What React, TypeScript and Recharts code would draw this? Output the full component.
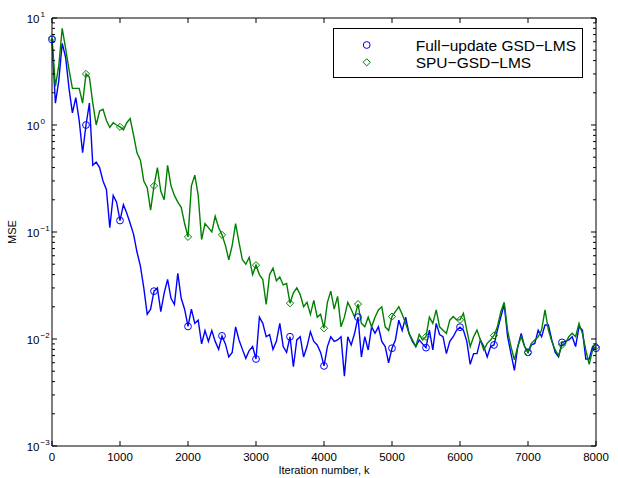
import { LineChart, Line, XAxis, YAxis } from 'recharts'

const STEP = 50

const fullUpdateMse = [
  6.3, 1.6, 2.6, 5.8, 4.3, 2.2, 1.3, 1.8, 1.1, 0.55,
  1.0, 1.6, 0.42, 0.45, 0.4, 0.3, 0.25, 0.11, 0.22, 0.19,
  0.128, 0.18, 0.15, 0.12, 0.095, 0.065, 0.048, 0.03, 0.017, 0.019,
  0.028, 0.03, 0.018, 0.027, 0.036, 0.024, 0.021, 0.041, 0.024, 0.019,
  0.0131, 0.019, 0.014, 0.015, 0.009, 0.012, 0.0095, 0.012, 0.0095, 0.008,
  0.0107, 0.009, 0.0068, 0.0075, 0.013, 0.0098, 0.008, 0.0066, 0.0078, 0.0085,
  0.0065, 0.016, 0.014, 0.0105, 0.011, 0.008, 0.0095, 0.014, 0.0085, 0.0075,
  0.0105, 0.0055, 0.0098, 0.0105, 0.0068, 0.0085, 0.0117, 0.0095, 0.0088, 0.0075,
  0.0056, 0.0085, 0.0105, 0.0095, 0.0098, 0.0105, 0.0045, 0.0105, 0.0088, 0.0113,
  0.016, 0.0068, 0.0105, 0.0079, 0.013, 0.0113, 0.013, 0.0095, 0.0085, 0.006,
  0.0082, 0.0098, 0.015, 0.012, 0.016, 0.0113, 0.0095, 0.0085, 0.0098, 0.009,
  0.0083, 0.0121, 0.0079, 0.014, 0.011, 0.0105, 0.0073, 0.0095, 0.0105, 0.0121,
  0.0129, 0.0121, 0.0095, 0.0058, 0.0073, 0.0073, 0.0098, 0.0085, 0.0068, 0.0085,
  0.0088, 0.0121, 0.016, 0.021, 0.0105, 0.0073, 0.0051, 0.0085, 0.0113, 0.0085,
  0.0075, 0.0088, 0.0091, 0.0121, 0.0105, 0.0135, 0.0135, 0.0098, 0.0075, 0.0068,
  0.0093, 0.0095, 0.0098, 0.0105, 0.0085, 0.013, 0.0121, 0.0065, 0.0065, 0.0085,
  0.0082,
]

const spuMse = [
  6.5, 2.3, 3.6, 8.0, 5.2, 3.3, 2.2, 2.2, 2.2, 1.6,
  3.0, 2.8, 1.6, 1.0, 1.35, 1.4, 1.1, 0.95, 1.05, 1.0,
  0.96, 0.9, 1.05, 1.15, 0.8, 0.55, 0.47, 0.3, 0.26, 0.16,
  0.27, 0.4, 0.24, 0.2, 0.42, 0.27, 0.22, 0.19, 0.17, 0.12,
  0.09, 0.27, 0.34, 0.22, 0.085, 0.12, 0.11, 0.1, 0.14, 0.11,
  0.094, 0.075, 0.055, 0.075, 0.12, 0.08, 0.055, 0.05, 0.058, 0.04,
  0.049, 0.04, 0.036, 0.021, 0.04, 0.046, 0.035, 0.038, 0.032, 0.033,
  0.0216, 0.027, 0.03, 0.026, 0.02, 0.022, 0.017, 0.023, 0.016, 0.017,
  0.0126, 0.022, 0.028, 0.019, 0.025, 0.013, 0.016, 0.022, 0.019, 0.016,
  0.0212, 0.014, 0.013, 0.016, 0.013, 0.016, 0.0187, 0.02, 0.013, 0.012,
  0.0162, 0.018, 0.02, 0.017, 0.014, 0.0113, 0.0098, 0.0085, 0.011, 0.0098,
  0.0105, 0.016, 0.014, 0.0187, 0.013, 0.0121, 0.0113, 0.015, 0.0162, 0.0151,
  0.0151, 0.0174, 0.0121, 0.0085, 0.0105, 0.0121, 0.0098, 0.0079, 0.0091, 0.0098,
  0.0108, 0.013, 0.018, 0.022, 0.012, 0.0085, 0.0064, 0.0085, 0.0105, 0.0085,
  0.0075, 0.0091, 0.0098, 0.0105, 0.0121, 0.0187, 0.0121, 0.0095, 0.0079, 0.007,
  0.0088, 0.0091, 0.0105, 0.0113, 0.0105, 0.014, 0.0113, 0.0079, 0.0058, 0.0079,
  0.0085,
]

const xTicks = [0, 1000, 2000, 3000, 4000, 5000, 6000, 7000, 8000]
const decades = [0.001, 0.01, 0.1, 1]
const mantissas = [1, 2, 3, 4, 5, 6, 7, 8, 9]
const yTicks = decades
  .flatMap((d) => mantissas.map((m) => +(m * d).toPrecision(3)))
  .concat([10])

const MARK_EVERY = 500
const FONT = '"Liberation Sans", Arial, Helvetica, sans-serif'
const BLUE = '#0000ff'
const GREEN = '#008000'

const data = fullUpdateMse.map((v, i) => ({ k: i * STEP, full: v, spu: spuMse[i] }))

const isMajor = (v: number) => Math.abs(Math.log10(v) - Math.round(Math.log10(v))) < 1e-6
const expOf = (v: number) => {
  const e = Math.round(Math.log10(v))
  return e < 0 ? '\u2212' + Math.abs(e) : String(e)
}

function BottomTick({ x, y, payload }: any) {
  return (
    <g>
      <line x1={x} y1={y} x2={x} y2={y - 5} stroke="#000" />
      <text x={x} y={y + 15} textAnchor="middle" fontSize={11.5} fontFamily={FONT} fill="#000">
        {payload.value}
      </text>
    </g>
  )
}

function TopTick({ x, y }: any) {
  return <line x1={x} y1={y} x2={x} y2={y + 5} stroke="#000" />
}

function LeftTick({ x, y, payload }: any) {
  const major = isMajor(payload.value)
  return (
    <g>
      <line x1={x} y1={y} x2={x + (major ? 5 : 3)} y2={y} stroke="#000" />
      {major && (
        <>
          <text x={x - 12.5} y={y + 4.5} textAnchor="end" fontSize={11.5} fontFamily={FONT} fill="#000">
            10
          </text>
          <text x={x - 11.5} y={y - 1} textAnchor="start" fontSize={8} fontFamily={FONT} fill="#000">
            {expOf(payload.value)}
          </text>
        </>
      )}
    </g>
  )
}

function RightTick({ x, y, payload }: any) {
  const major = isMajor(payload.value)
  return <line x1={x} y1={y} x2={x - (major ? 5 : 3)} y2={y} stroke="#000" />
}

function markerDot(kind: 'circle' | 'diamond', color: string) {
  return (props: any) => {
    const { cx, cy, payload, index } = props
    if (payload.k % MARK_EVERY !== 0) return <g key={`${kind}-${index}`} />
    if (kind === 'circle')
      return <circle key={`${kind}-${index}`} cx={cx} cy={cy} r={3.4} fill="none" stroke={color} strokeWidth={1} />
    const s = 3.6
    return (
      <path
        key={`${kind}-${index}`}
        d={`M${cx},${cy - s}L${cx + s},${cy}L${cx},${cy + s}L${cx - s},${cy}Z`}
        fill="none"
        stroke={color}
        strokeWidth={1}
      />
    )
  }
}

// legend drawn as an overlay so it takes no room from the plot
function LegendBox() {
  return (
    <svg width={250} height={50} style={{ position: 'absolute', left: 333, top: 28, display: 'block' }}>
      <rect x={0.5} y={0.5} width={249} height={49} fill="#fff" stroke="#000" />
      <circle cx={33.7} cy={17} r={3.4} fill="none" stroke={BLUE} />
      <path d="M33.7,30.7L37.3,34.3L33.7,37.9L30.1,34.3Z" fill="none" stroke={GREEN} />
      <text x={82.7} y={22.5} fontSize={15.5} fontFamily={FONT} fill="#000">
        Full{'\u2212'}update GSD{'\u2212'}LMS
      </text>
      <text x={82.7} y={39.5} fontSize={15.5} fontFamily={FONT} fill="#000">
        SPU{'\u2212'}GSD{'\u2212'}LMS
      </text>
    </svg>
  )
}

export default function App() {
  return (
    <div style={{ position: 'absolute', left: 0, top: 0, width: 618, height: 478, background: '#fff' }}>
      <LineChart width={618} height={478} data={data} margin={{ top: 17, right: 21, bottom: 31, left: 51 }}>
        <XAxis
          xAxisId="b"
          dataKey="k"
          type="number"
          domain={[0, 8000]}
          ticks={xTicks}
          interval={0}
          height={1}
          tickSize={0}
          tickMargin={0}
          tickLine={false}
          axisLine={{ stroke: '#000' }}
          tick={<BottomTick />}
          label={(p: any) => {
            const vb = p.viewBox
            return (
              <text x={vb.x + vb.width / 2} y={vb.y + 28} textAnchor="middle" fontSize={11} fontFamily={FONT} fill="#000">
                Iteration number, k
              </text>
            )
          }}
        />
        <XAxis
          xAxisId="t"
          orientation="top"
          dataKey="k"
          type="number"
          domain={[0, 8000]}
          ticks={xTicks}
          interval={0}
          height={1}
          tickSize={0}
          tickMargin={0}
          tickLine={false}
          axisLine={{ stroke: '#000' }}
          tick={<TopTick />}
        />
        <YAxis
          yAxisId="l"
          scale="log"
          type="number"
          domain={[0.001, 10]}
          allowDataOverflow
          ticks={yTicks}
          interval={0}
          width={1}
          tickSize={0}
          tickMargin={0}
          tickLine={false}
          axisLine={{ stroke: '#000' }}
          tick={<LeftTick />}
          label={(p: any) => {
            const vb = p.viewBox
            const cx = vb.x - 39
            const cy = vb.y + vb.height / 2
            return (
              <text x={cx} y={cy} transform={`rotate(-90 ${cx} ${cy})`} textAnchor="middle" dy={4} fontSize={11} fontFamily={FONT} fill="#000">
                MSE
              </text>
            )
          }}
        />
        <YAxis
          yAxisId="r"
          orientation="right"
          scale="log"
          type="number"
          domain={[0.001, 10]}
          allowDataOverflow
          ticks={yTicks}
          interval={0}
          width={1}
          tickSize={0}
          tickMargin={0}
          tickLine={false}
          axisLine={{ stroke: '#000' }}
          tick={<RightTick />}
        />
        <Line
          xAxisId="b"
          yAxisId="l"
          dataKey="full"
          name="Full−update GSD−LMS"
          stroke={BLUE}
          strokeWidth={1.4}
          dot={markerDot('circle', BLUE)}
          activeDot={false}
          isAnimationActive={false}
        />
        <Line
          xAxisId="b"
          yAxisId="l"
          dataKey="spu"
          name="SPU−GSD−LMS"
          stroke={GREEN}
          strokeWidth={1.4}
          dot={markerDot('diamond', GREEN)}
          activeDot={false}
          isAnimationActive={false}
        />
      </LineChart>
      <LegendBox />
    </div>
  )
}
